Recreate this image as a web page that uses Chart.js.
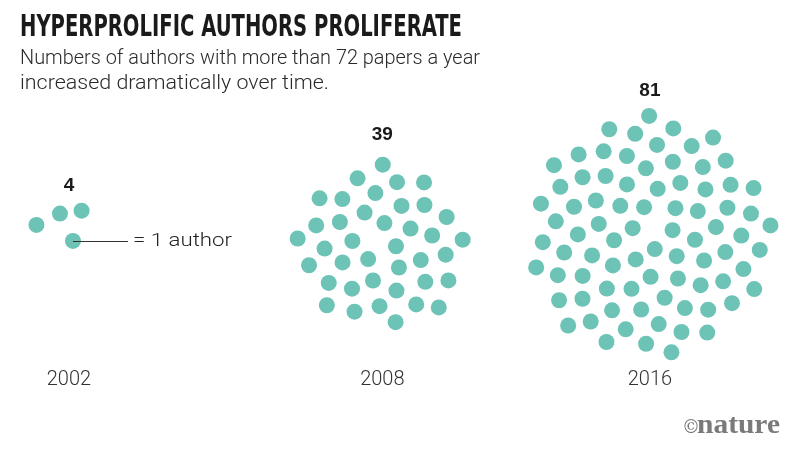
<!DOCTYPE html>
<html lang="en">
<head>
<meta charset="UTF-8">
<title>Hyperprolific authors proliferate</title>
<script src="https://cdn.jsdelivr.net/npm/chart.js@4.4.0/dist/chart.umd.min.js"></script>
<style>
  html, body { margin: 0; padding: 0; background: #fff; }
  #wrap { width: 800px; height: 451px; }
</style>
</head>
<body>
<div id="wrap"><canvas id="dots" width="800" height="451"></canvas></div>
<script>
const years = ['2002', '2008', '2016'];
const authorCounts = [4, 39, 81];

// layout: cluster centres on the 800x451 page, spiral turn, label heights
const clusterCentres = [[53, 227], [382, 247], [655, 237]];
const clusterTurn = [-90, 0, 69];
const countLabelY = [184, 131, 86];
const yearLabelY = 386;
const spacing = 13.9;
const golden = 137.508;
const dotColour = '#6cc3b6';

// sunflower packing, one dot per author
function spiral(n, cx, cy, turn) {
    const pts = [];
    for (let k = 0; k < n; k++) {
        const r = spacing * Math.sqrt(k + 1);
        const a = (k * golden + turn) * Math.PI / 180;
        pts.push({ x: cx + r * Math.cos(a), y: cy + r * Math.sin(a) });
    }
    return pts;
}

// draw text scaled sideways to take up the given width
function fitText(ctx, text, x, y, width) {
    const w = ctx.measureText(text).width;
    ctx.save();
    ctx.translate(x, y);
    ctx.scale(width / w, 1);
    ctx.fillText(text, 0, 0);
    ctx.restore();
}

const textPlugin = {
    id: 'texts',
    afterDatasetsDraw(chart) {
        const ctx = chart.ctx;
        const xs = chart.scales.x, ys = chart.scales.y;
        ctx.save();
        ctx.textBaseline = 'alphabetic';
        ctx.textAlign = 'left';

        ctx.fillStyle = '#1a1a1a';
        ctx.font = 'bold 31px "DejaVu Sans Condensed", "DejaVu Sans"';
        fitText(ctx, 'HYPERPROLIFIC AUTHORS PROLIFERATE', 20, 36, 442);

        ctx.fillStyle = '#2a2a2a';
        ctx.font = '300 20px Roboto';
        fitText(ctx, 'Numbers of authors with more than 72 papers a year', 20, 64, 460);
        fitText(ctx, 'increased dramatically over time.', 20, 89, 309);

        // count above each cluster, year below
        ctx.textAlign = 'center';
        ctx.textBaseline = 'middle';
        years.forEach((yr, i) => {
            const cx = xs.getPixelForValue(clusterCentres[i][0]);
            ctx.fillStyle = '#1a1a1a';
            ctx.font = 'bold 19px "Liberation Sans"';
            ctx.fillText(String(authorCounts[i]), cx + (i === 0 ? 9 : 0), ys.getPixelForValue(countLabelY[i]));
            ctx.fillStyle = '#333';
            ctx.font = '300 20px Roboto';
            ctx.fillText(yr, cx + (i === 0 ? 9 : 0), ys.getPixelForValue(yearLabelY));
        });

        // key: line from the lowest dot of the first cluster
        const first = chart.data.datasets[0].data;
        let low = first[0];
        first.forEach(p => { if (p.y > low.y) low = p; });
        const px = xs.getPixelForValue(low.x), py = ys.getPixelForValue(low.y);
        ctx.strokeStyle = '#333';
        ctx.lineWidth = 1;
        ctx.beginPath();
        ctx.moveTo(px, Math.round(py) + 0.5);
        ctx.lineTo(128, Math.round(py) + 0.5);
        ctx.stroke();
        ctx.textAlign = 'left';
        ctx.fillStyle = '#222';
        ctx.font = '300 19px Roboto';
        fitText(ctx, '= 1 author', 133, py, 99);

        // credit
        ctx.textBaseline = 'alphabetic';
        ctx.fillStyle = '#7a7a7a';
        ctx.font = '18px "DejaVu Serif"';
        ctx.fillText('\u00a9', 682, 433);
        ctx.font = 'bold 28px "Liberation Serif"';
        fitText(ctx, 'nature', 697, 433, 83);
        ctx.restore();
    }
};

new Chart(document.getElementById('dots'), {
    type: 'scatter',
    data: {
        datasets: years.map((yr, i) => ({
            label: yr,
            data: spiral(authorCounts[i], clusterCentres[i][0], clusterCentres[i][1], clusterTurn[i]),
            pointRadius: 8,
            pointHoverRadius: 8,
            backgroundColor: dotColour,
            borderWidth: 0
        }))
    },
    options: {
        responsive: false,
        animation: false,
        layout: { padding: 0 },
        plugins: { legend: { display: false }, tooltip: { enabled: false } },
        scales: {
            x: { type: 'linear', min: 0, max: 800, display: false },
            y: { type: 'linear', min: 0, max: 451, reverse: true, display: false }
        }
    },
    plugins: [textPlugin]
});
</script>
</body>
</html>
